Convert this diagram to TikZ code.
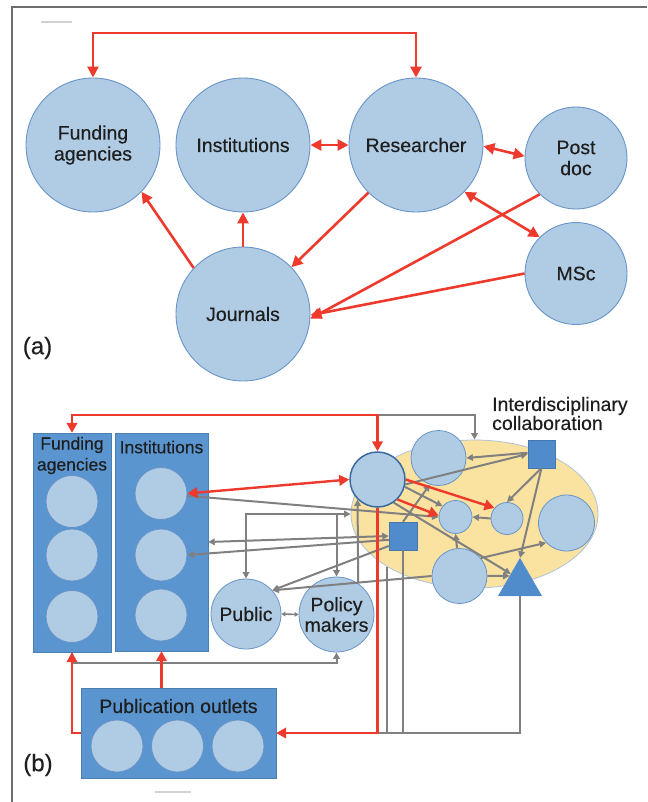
\documentclass[tikz,border=0pt]{standalone}
\usepackage{fontspec}
\setmainfont{Liberation Sans}[FakeBold=0.35]
\usetikzlibrary{arrows.meta,shapes.geometric,calc}
\definecolor{cfill}{RGB}{176,204,228}
\definecolor{cline}{RGB}{104,148,200}
\definecolor{rline}{RGB}{58,105,160}
\definecolor{boxfill}{RGB}{90,149,208}
\definecolor{shapeblue}{RGB}{80,140,204}
\definecolor{yfill}{RGB}{250,226,160}
\definecolor{yline}{RGB}{175,195,218}
\definecolor{myred}{RGB}{238,58,45}
\definecolor{mygray}{RGB}{128,128,128}
\definecolor{framec}{RGB}{110,110,110}
\definecolor{txt}{RGB}{30,30,30}
\tikzset{
 acirc/.style={circle,fill=cfill,draw=cline,line width=0.9pt,inner sep=0pt,align=center,text=txt,font=\fontsize{19.5}{21}\selectfont},
 bcirc/.style={circle,fill=cfill,draw=cline,line width=0.8pt,inner sep=0pt,minimum size=#1},
 lbl/.style={text=txt,align=center,inner sep=0pt,font=\fontsize{19.5}{20.5}\selectfont},
 boxlbl/.style={text=txt,align=center,inner sep=0pt,font=\fontsize{17.5}{21}\selectfont},
 bluebox/.style={rectangle,fill=boxfill,draw=boxfill!85!black,line width=0.4pt,inner sep=0pt},
 bsq/.style={rectangle,fill=shapeblue,draw=shapeblue!85!black,line width=0.5pt,inner sep=0pt,minimum size=#1},
 redA/.style={draw=myred,line width=2.6pt,>={Triangle[length=11pt,width=11pt]}},
 redB/.style={draw=myred,line width=2.4pt,>={Triangle[length=10pt,width=10.5pt]}},
 grayB/.style={draw=mygray,line width=2pt,>={Triangle[length=6.5pt,width=6.5pt]}},
 grayS/.style={draw=mygray,line width=1.6pt,>={Triangle[length=4pt,width=4.5pt]}},
 panel/.style={text=txt,inner sep=0pt,font=\fontsize{24}{26}\selectfont},
}
\begin{document}
\begin{tikzpicture}[x=1pt,y=-1pt]
\useasboundingbox (0,0) rectangle (647,802);
% frame
\draw[framec,line width=2pt] (12,802) -- (12,7.5) -- (647,7.5);
\draw[gray!35,line width=1.5pt] (41,22) -- (72,22);
\draw[gray!35,line width=1.5pt] (155,792) -- (191,792);

% ---------------- (a) ----------------
\node[acirc,minimum size=134pt] (fund) at (93,145) {Funding\\agencies};
\node[acirc,minimum size=134pt] (inst) at (243,145) {Institutions};
\node[acirc,minimum size=134pt] (res) at (416,145) {Researcher};
\node[acirc,minimum size=102pt] (post) at (576,158) {Post\\doc};
\node[acirc,minimum size=102pt] (msc) at (576,273.5) {MSc};
\node[acirc,minimum size=134pt] (jour) at (243,314) {Journals};
\node[panel] (alab) at (37.5,348) {(a)};

\coordinate (topA) at (0,33);
\draw[redA,<->] (fund.north) -- (fund.north |- topA) -- (res.north |- topA) -- (res.north);
\draw[redA,<->] (inst.east) -- (res.west);
\draw[redA,<->] (res.-1) -- (post.178);
\draw[redA,<->] (res.-44) -- (msc.135);
\draw[redA,->] (res.-135) -- (jour.44);
\draw[redA,->] (post.-135) -- (jour.-4);
\draw[redA,->] (msc.180) -- (jour.-1);
\draw[redA,->] (jour.137) -- (fund.-44);
\draw[redA,->] (jour.north) -- (inst.south);

% ---------------- (b) ----------------
\node[bluebox,minimum width=78pt,minimum height=219pt] (fbox) at (72,542.5) {};
\node[bluebox,minimum width=93pt,minimum height=218pt] (ibox) at (161.5,542) {};
\node[boxlbl] (flbl) at (72,455.5) {Funding\\agencies};
\node[boxlbl] (ilbl) at (161.5,447) {Institutions};
\node[bcirc=52pt] (f1) at (72,501.5) {};
\node[bcirc=52pt] (f2) at (72,555) {};
\node[bcirc=52pt] (f3) at (72,616.5) {};
\node[bcirc=52pt] (i1) at (161,493.5) {};
\node[bcirc=52pt] (i2) at (161,555) {};
\node[bcirc=52pt] (i3) at (161,615) {};
\node[bcirc=70pt,lbl] (publ) at (246,614) {Public};
\node[bcirc=75pt,lbl] (pol) at (336.5,614.5) {Policy\\makers};

\node[bluebox,minimum width=195pt,minimum height=90pt] (pubbox) at (178.5,733) {};
\node[lbl] (plbl) at (178.5,706) {Publication outlets};
\node[bcirc=52pt] (p1) at (117,746) {};
\node[bcirc=52pt] (p2) at (177.5,746) {};
\node[bcirc=52pt] (p3) at (238,746) {};

\node[ellipse,fill=yfill,draw=yline,line width=0.8pt,minimum width=247pt,minimum height=148pt,inner sep=0pt] (Y) at (474.5,514) {};
\node[bcirc=55pt,draw=rline,line width=1.5pt] (R) at (377.5,479.5) {};
\node[bcirc=55pt] (T) at (438.5,458) {};
\node[bsq=27.5pt] (S1) at (541.5,454) {};
\node[bcirc=33pt] (c1) at (455.5,517) {};
\node[bcirc=32pt] (c2) at (507,518.5) {};
\node[bcirc=56pt] (C) at (566.5,523) {};
\node[bcirc=55pt] (B) at (459.5,576) {};
\node[regular polygon,regular polygon sides=3,minimum size=50.8pt,inner sep=0pt,outer sep=0pt,fill=shapeblue] (Tri) at (520,583.3) {};
\node[bsq=28pt] (S2) at (403,536) {};
\node[anchor=west,align=left,inner sep=0pt,text=txt,font=\fontsize{19.5}{19}\selectfont] (ilab) at (492,413.5) {Interdisciplinary\\collaboration};
\node[panel] (blab) at (38,765) {(b)};

% gray connectors
\coordinate (topB) at (0,415);
\coordinate (gl) at (72,663);
\draw[grayB,->] (R.north |- topB) -| (Y.north);
\draw[grayB,->] (gl) -| (pol.south);
\draw[grayB] (Y.211) -- (Y.211 |- pubbox.east);
\draw[grayB] (S2.south) -- (S2.south |- pubbox.east);
\draw[grayB] (Tri.corner 1 |- Tri.corner 2) |- (R.south |- pubbox.east);
\draw[grayB,->] (i1.-5) -- (c1.west);
\draw[grayB,<->] (publ.north) |- (Y.west);
\draw[grayB,->] (pol.north |- Y.west) -- (pol.north);
\draw[grayB,<->] (ibox.east) -- (S2.west);
\draw[grayB,->] (S2.195) -- (i2.east);
\draw[grayB,->] (S2.215) -- (publ.42);
\draw[grayB,->] (B.west) -- (publ.42);
\draw[grayB,->] (B.east) -- ($(Tri.corner 1)!0.47!(Tri.corner 2)$);
\draw[grayB,->] (B.40) -- (C.224);
\draw[grayB,->] (B.95) -- (c1.south);
\draw[grayB,->] (S1.175) -- (T.east);
\draw[grayB,->] (R.-10) -- (S1.west);
\draw[grayB,->] (R.-15) -- (c1.140);
\draw[grayB,->] (R.-55) -- ($(Tri.corner 1)!0.42!(Tri.corner 2)$);
\draw[grayB,->] (S1.south) -- (c2.north);
\draw[grayB,->] (S1.south) -- (Tri.corner 1);
\draw[grayB,->] (c2.west) -- (c1.east);
\draw[grayB,->] (S2.north) -- (T.252);
\draw[grayB,->] (pol.55) -- (R.225);
\draw[grayS,<->] (publ.east) -- (pol.west);

% red connectors
\draw[redB,<->] (fbox.north) |- (R.north |- topB) -- (R.north);
\draw[redB,<->] (i1.east) -- (R.west);
\draw[redB,->] (R.0) -- (c2.140);
\draw[redB,->] (R.-45) -- (c1.175);
\draw[redB,->] (R.south) |- (pubbox.east);
\draw[redB,->] (pubbox.west) -| (fbox.south);
\draw[redB,->] (ibox.south |- pubbox.north) -- (ibox.south);
\end{tikzpicture}
\end{document}
